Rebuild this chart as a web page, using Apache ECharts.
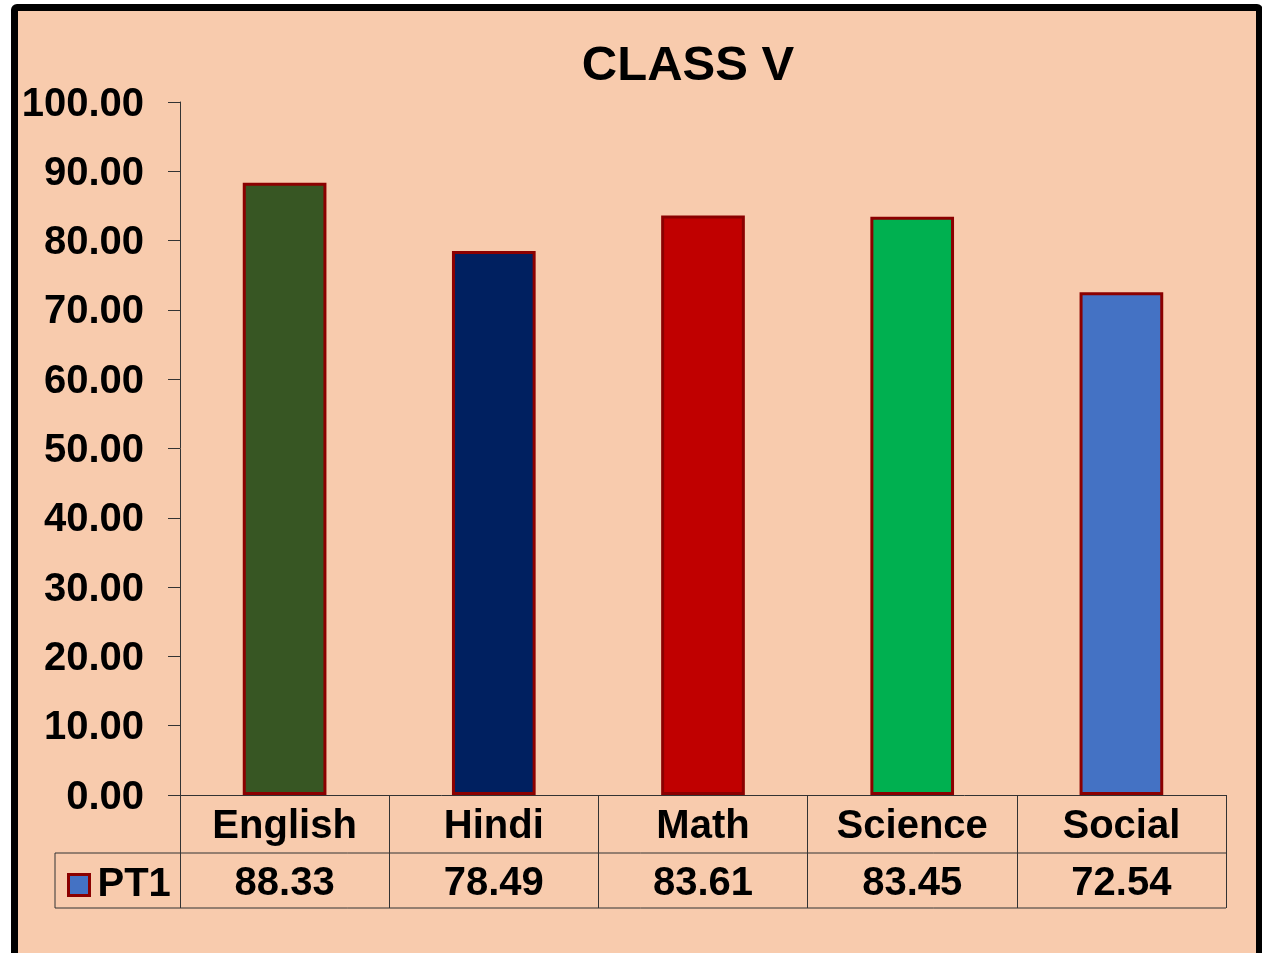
<!DOCTYPE html>
<html>
<head>
<meta charset="utf-8">
<script src="https://cdn.jsdelivr.net/npm/echarts@6/dist/echarts.min.js"></script>
<style>
  html, body { margin: 0; padding: 0; background: #fff; }
  #frame {
    position: absolute; left: 11px; top: 4px; width: 1252px; height: 970px;
    box-sizing: border-box; border: 7px solid #000; border-radius: 6px;
    background: #F8CBAD;
  }
  #chart { position: absolute; left: 0; top: 0; width: 1262px; height: 953px; }
</style>
</head>
<body>
<div id="frame"></div>
<div id="chart"></div>
<script>
// chart data
var subjects = ['English', 'Hindi', 'Math', 'Science', 'Social'];
var pt1 = [88.33, 78.49, 83.61, 83.45, 72.54];
var barColors = ['#375623', '#002060', '#C00000', '#00B050', '#4472C4'];
var seriesName = 'PT1';

var font = 'Liberation Sans, Arial, sans-serif';
var chart = echarts.init(document.getElementById('chart'));

var gridLeft = 180, gridRight = 1226, gridTop = 102, gridBottom = 795;
var rowMid = 853, rowEnd = 908, tableLeft = 55;
var lineCol = '#333';

chart.setOption({
  animation: false,
  textStyle: { fontFamily: font },
  title: {
    text: 'CLASS V',
    left: 683, top: 37, textAlign: 'center',
    textStyle: { fontSize: 49, fontWeight: 'bold', color: '#000', fontFamily: font }
  },
  legend: {
    data: [seriesName],
    left: 62, top: 860,
    icon: 'rect', itemWidth: 21, itemHeight: 21,
    itemStyle: { color: '#4472C4', borderColor: '#8B0000', borderWidth: 3 },
    textStyle: {
      color: '#000',
      formatter: null,
      rich: {}
    },
    formatter: function (n) { return '{t|' + n + '}'; }
  },
  grid: { left: gridLeft, right: 1262 - gridRight, top: gridTop, bottom: 953 - gridBottom },
  xAxis: [{
    type: 'category',
    data: subjects,
    axisLine: { lineStyle: { color: lineCol, width: 1 } },
    axisTick: { show: true, length: rowEnd - gridBottom, lineStyle: { color: lineCol } },
    axisLabel: { margin: 12, fontSize: 40, fontWeight: 'bold', color: '#000', lineHeight: 40, fontFamily: font }
  }, {
    type: 'category',
    position: 'bottom',
    offset: rowMid - gridBottom,
    data: pt1.map(function (v) { return v.toFixed(2); }),
    axisLine: { show: false },
    axisTick: { show: false },
    axisLabel: { margin: 11, fontSize: 40, fontWeight: 'bold', color: '#000', lineHeight: 40, fontFamily: font }
  }],
  yAxis: {
    type: 'value',
    min: 0, max: 100, interval: 10,
    axisLine: { show: true, lineStyle: { color: lineCol, width: 1 } },
    axisTick: { show: true, length: 12, lineStyle: { color: lineCol } },
    splitLine: { show: false },
    axisLabel: {
      margin: 36, color: '#000',
      formatter: function (v) { return '{t|' + v.toFixed(2) + '}'; },
      rich: { t: { fontSize: 40, fontWeight: 'bold', color: '#000', fontFamily: font, padding: [5, 0, 0, 0] } }
    }
  },
  series: [{
    name: seriesName,
    type: 'bar',
    barWidth: '40%',
    itemStyle: { color: '#4472C4', borderColor: '#8B0000', borderWidth: 3 },
    data: pt1.map(function (v, i) {
      return { value: v, itemStyle: { color: barColors[i] } };
    })
  }],
  graphic: [
    { type: 'line', shape: { x1: tableLeft, y1: rowMid, x2: gridRight, y2: rowMid }, style: { stroke: lineCol, lineWidth: 1 } },
    { type: 'line', shape: { x1: tableLeft, y1: rowEnd, x2: gridRight, y2: rowEnd }, style: { stroke: lineCol, lineWidth: 1 } },
    { type: 'line', shape: { x1: tableLeft, y1: rowMid, x2: tableLeft, y2: rowEnd }, style: { stroke: lineCol, lineWidth: 1 } }
  ]
});
chart.setOption({
  legend: {
    textStyle: {
      rich: { t: { fontSize: 40, fontWeight: 'bold', color: '#000', fontFamily: font, padding: [0, 0, 0, 3] } }
    }
  }
});
</script>
</body>
</html>
